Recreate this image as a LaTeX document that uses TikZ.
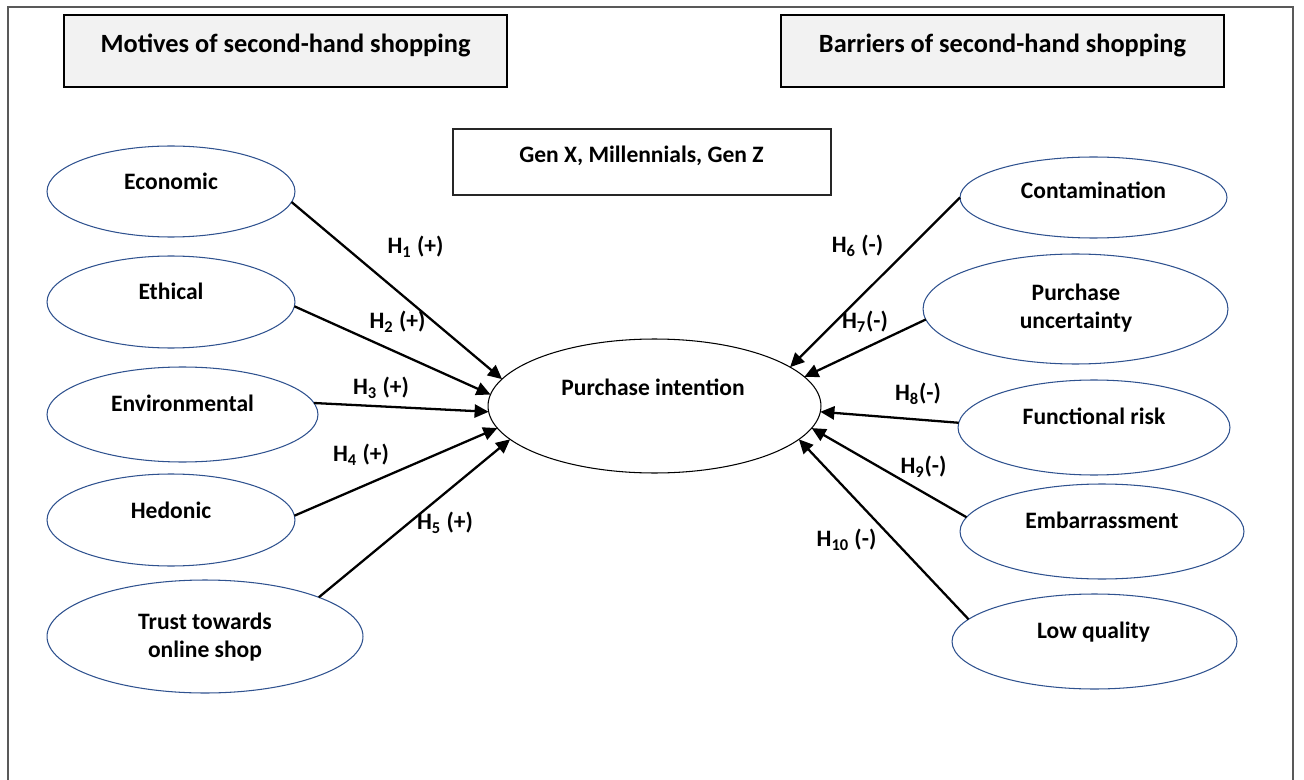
\documentclass[tikz,border=0pt]{standalone}
\usepackage{fontspec}
\setmainfont{Carlito}
\usetikzlibrary{shapes.geometric,arrows.meta}
\definecolor{navy}{HTML}{2F528F}
\definecolor{hdrfill}{HTML}{F2F2F2}
\definecolor{framegray}{HTML}{595959}
\begin{document}
\begin{tikzpicture}[x=0.02cm,y=-0.02cm,
  oval/.style={ellipse,draw=navy,line width=0.6pt,inner sep=0pt,outer sep=0pt},
  centeroval/.style={ellipse,draw=black,line width=0.6pt,inner sep=0pt,outer sep=0pt},
  txt/.style={font=\fontsize{13.4}{16}\selectfont\bfseries,inner sep=0pt,align=center},
  hdrtxt/.style={font=\fontsize{15}{18}\selectfont\bfseries,inner sep=0pt,anchor=base},
  hdrbox/.style={draw=black,fill=hdrfill,line width=0.8pt,minimum width=8.86cm,minimum height=1.44cm,inner sep=0pt,outer sep=0pt},
  genbox/.style={draw=black!85,fill=white,line width=0.8pt,minimum width=7.56cm,minimum height=1.32cm,inner sep=0pt,outer sep=0pt},
  hyp/.style={-{Triangle[length=8pt,width=7.5pt]},line width=1.3pt},
  frame/.style={draw=framegray,line width=0.8pt}]
\useasboundingbox (0,0) rectangle (1304,780);
% outer frame
\coordinate (fbl) at (8,780);
\coordinate (ftl) at (8,7);
\coordinate (ftr) at (1293,7);
\coordinate (fbr) at (1293,780);
\draw[frame] (fbl) -- (ftl) -- (ftr) -- (fbr);

% header boxes
\node[hdrbox] (mot) at (285.5,51) {};
\node[hdrtxt] (motT) at (285.5,53) {Motives of second-hand shopping};
\node[hdrbox] (bar) at (1002.5,51) {};
\node[hdrtxt] (barT) at (1002.5,53) {Barriers of second-hand shopping};

% generation box
\node[genbox] (gen) at (642,162) {};
\node[txt,anchor=base] (genT) at (641.5,163) {Gen X, Millennials, Gen Z};

% left ellipses
\node[oval,minimum width=4.96cm,minimum height=1.82cm] (econ) at (171,191.5) {};
\node[txt,anchor=base] (econT) at (171,190) {Economic};
\node[oval,minimum width=4.96cm,minimum height=1.84cm] (eth) at (171,302) {};
\node[txt,anchor=base] (ethT) at (171,299) {Ethical};
\node[oval,minimum width=5.42cm,minimum height=1.90cm] (env) at (182.5,414.5) {};
\node[txt,anchor=base] (envT) at (182.5,411) {Environmental};
\node[oval,minimum width=4.96cm,minimum height=1.84cm] (hed) at (171,520) {};
\node[txt,anchor=base] (hedT) at (171,518) {Hedonic};
\node[oval,minimum width=6.32cm,minimum height=2.26cm] (trust) at (205,636.5) {};
\node[txt] (trustT) at (205,637) {Trust towards\\online shop};

% right ellipses
\node[oval,minimum width=5.34cm,minimum height=1.62cm] (cont) at (1093.5,197.5) {};
\node[txt,anchor=base] (contT) at (1093.5,199) {Contamination};
\node[oval,minimum width=6.10cm,minimum height=2.20cm] (pu) at (1075.5,309) {};
\node[txt] (puT) at (1076,308.5) {Purchase\\uncertainty};
\node[oval,minimum width=5.44cm,minimum height=1.90cm] (fr) at (1094,427.5) {};
\node[txt,anchor=base] (frT) at (1094,424) {Functional risk};
\node[oval,minimum width=5.68cm,minimum height=1.90cm] (emb) at (1102,531.5) {};
\node[txt,anchor=base] (embT) at (1102,528) {Embarrassment};
\node[oval,minimum width=5.70cm,minimum height=1.90cm] (lq) at (1094.5,641.5) {};
\node[txt,anchor=base] (lqT) at (1093.5,638) {Low quality};

% centre
\node[centeroval,minimum width=6.66cm,minimum height=2.68cm] (pi) at (654.5,406) {};
\node[txt,anchor=base] (piT) at (653,395) {Purchase intention};

% connectors
\draw[hyp] (econ.-5.4) -- (pi.170);
\draw[hyp] (eth.-2) -- (pi.176);
\draw[hyp] (env.5.6) -- (pi.182);
\draw[hyp] (hed.2.9) -- (pi.188);
\draw[hyp] (trust.19.6) -- (pi.193);
\draw[hyp] (cont.180) -- (pi.16);
\draw[hyp] (pu.184.4) -- (pi.11);
\draw[hyp] (fr.178.6) -- (pi.-2.5);
\draw[hyp] (emb.174.6) -- (pi.-8.5);
\draw[hyp] (lq.170.3) -- (pi.-13.5);

% hypothesis labels
\node[txt] (h1) at (415.5,247) {H\textsubscript{1} (+)};
\node[txt] (h2) at (397.5,322) {H\textsubscript{2} (+)};
\node[txt] (h3) at (381,388) {H\textsubscript{3} (+)};
\node[txt] (h4) at (361,455) {H\textsubscript{4} (+)};
\node[txt] (h5) at (445,523) {H\textsubscript{5} (+)};
\node[txt] (h6) at (857.5,246) {H\textsubscript{6} (-)};
\node[txt] (h7) at (865,322) {H\textsubscript{7}(-)};
\node[txt] (h8) at (918,394) {H\textsubscript{8}(-)};
\node[txt] (h9) at (923.5,467) {H\textsubscript{9}(-)};
\node[txt] (h10) at (846.5,540) {H\textsubscript{10} (-)};
\end{tikzpicture}
\end{document}
